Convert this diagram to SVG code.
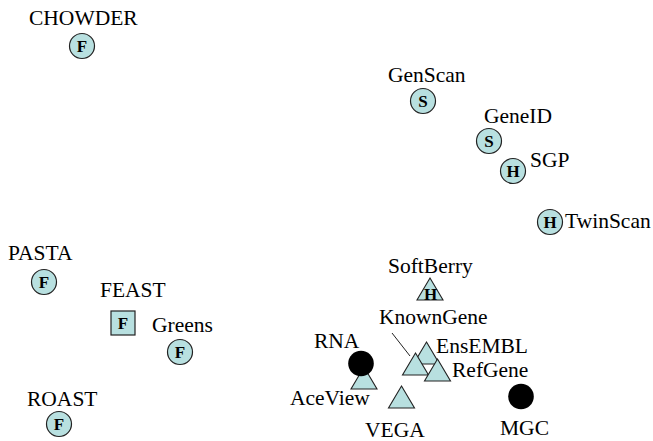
<svg xmlns="http://www.w3.org/2000/svg" width="653" height="441" viewBox="0 0 653 441">
<style>
.lbl{font-family:"Liberation Serif","Times New Roman",serif;font-size:21.5px;fill:#000}
.sym{font-family:"Liberation Serif","Times New Roman",serif;font-size:17px;font-weight:bold;text-anchor:middle;fill:#000}
.c{fill:#b8e0e0;stroke:#222;stroke-width:1.2}
.t{fill:#b8e0e0;stroke:#222;stroke-width:1.1}
.b{fill:#000}
</style>
<defs>
<circle id="circ" r="12.5" class="c"/>
<polygon id="tri" points="0,-22 13,0 -13,0" class="t"/>
</defs>
<rect width="653" height="441" fill="#fff"/>
<g id="connectors">
<line x1="392" y1="333" x2="410" y2="356" stroke="#222" stroke-width="1"/>
</g>
<g id="CHOWDER"><text class="lbl" x="29" y="25">CHOWDER</text><use href="#circ" x="82" y="46"/><text class="sym" x="82" y="51.5">F</text></g>
<g id="GenScan"><text class="lbl" x="388" y="82">GenScan</text><use href="#circ" x="423" y="101"/><text class="sym" x="423" y="106.5">S</text></g>
<g id="GeneID"><text class="lbl" x="484" y="123">GeneID</text><use href="#circ" x="489" y="141"/><text class="sym" x="489" y="146.5">S</text></g>
<g id="SGP"><text class="lbl" x="530" y="167">SGP</text><use href="#circ" x="513" y="171"/><text class="sym" x="513" y="176.5">H</text></g>
<g id="TwinScan"><text class="lbl" x="565" y="228">TwinScan</text><use href="#circ" x="550" y="222"/><text class="sym" x="550" y="227.5">H</text></g>
<g id="PASTA"><text class="lbl" x="8" y="260">PASTA</text><use href="#circ" x="44" y="282"/><text class="sym" x="44" y="287.5">F</text></g>
<g id="FEAST"><text class="lbl" x="100" y="297">FEAST</text><rect x="111" y="311" width="24" height="24" class="c"/><text class="sym" x="123" y="328.5">F</text></g>
<g id="Greens"><text class="lbl" x="152" y="332">Greens</text><use href="#circ" x="180" y="352"/><text class="sym" x="180" y="357.5">F</text></g>
<g id="ROAST"><text class="lbl" x="27" y="406">ROAST</text><use href="#circ" x="59" y="424"/><text class="sym" x="59" y="429.5">F</text></g>
<g id="SoftBerry"><text class="lbl" x="388" y="273">SoftBerry</text><use href="#tri" x="430" y="300"/><text class="sym" x="430.5" y="299.5">H</text></g>
<g id="EnsEMBL"><use href="#tri" x="426.5" y="364"/><text class="lbl" x="436" y="353">EnsEMBL</text></g>
<g id="KnownGene"><text class="lbl" x="379" y="324">KnownGene</text><use href="#tri" x="415.5" y="375"/></g>
<g id="RefGene"><use href="#tri" x="437.5" y="381"/><text class="lbl" x="452" y="377">RefGene</text></g>
<g id="AceView"><use href="#tri" x="364" y="389"/><text class="lbl" x="290" y="405">AceView</text></g>
<g id="RNA"><text class="lbl" x="314" y="348">RNA</text><circle cx="361" cy="363.5" r="12.8" class="b"/></g>
<g id="VEGA"><use href="#tri" x="401.5" y="408"/><text class="lbl" x="365" y="437">VEGA</text></g>
<g id="MGC"><circle cx="521" cy="396.5" r="12.8" class="b"/><text class="lbl" x="500" y="435">MGC</text></g>
</svg>
